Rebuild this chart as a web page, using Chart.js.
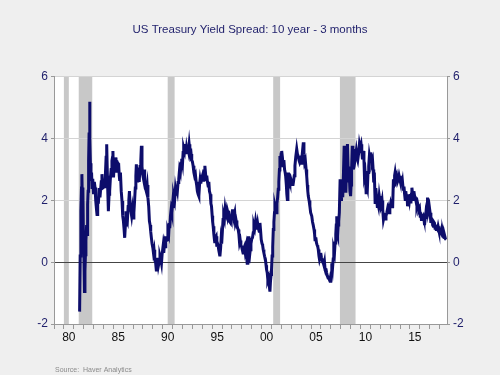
<!DOCTYPE html>
<html>
<head>
<meta charset="utf-8">
<script src="https://cdn.jsdelivr.net/npm/chart.js@4.4.0/dist/chart.umd.min.js"></script>
<style>
html,body{margin:0;padding:0;background:#efefef;}
#wrap{width:500px;height:375px;position:relative;}
</style>
</head>
<body>
<div id="wrap"><canvas id="c" width="500" height="375"></canvas></div>
<script>
const titleText = "US Treasury Yield Spread: 10 year - 3 months";
const sourceText = "Source:  Haver Analytics";
const yTicks = [-2, 0, 2, 4, 6];
const recessionStart = [1980.0, 1981.5, 1990.5, 2001.17, 2007.92];
const recessionEnd   = [1980.5, 1982.87, 1991.2, 2001.87, 2009.5];

const dates = [
1981.59,1981.65,1981.72,1981.78,1981.82,1981.87,1981.92,1981.97,1982.03,1982.08,1982.13,1982.18,1982.23,1982.30,1982.36,1982.40,1982.45,1982.50,1982.55,1982.60,1982.64,1982.68,1982.74,1982.80,1982.85,1982.92,
1983.00,1983.08,1983.15,1983.22,1983.30,1983.35,1983.42,1983.50,1983.58,1983.65,1983.70,1983.78,1983.85,1983.92,
1984.00,1984.08,1984.15,1984.20,1984.27,1984.33,1984.40,1984.45,1984.50,1984.57,1984.63,1984.70,1984.78,1984.86,1984.92,1984.96,
1985.02,1985.08,1985.15,1985.20,1985.27,1985.35,1985.42,1985.48,1985.54,1985.60,1985.65,1985.72,1985.80,1985.88,1985.95,
1986.02,1986.08,1986.15,1986.22,1986.28,1986.35,1986.42,1986.50,1986.57,1986.63,1986.70,1986.78,1986.85,1986.92,
1987.00,1987.08,1987.15,1987.22,1987.28,1987.33,1987.40,1987.47,1987.55,1987.62,1987.70,1987.78,1987.84,1987.90,1987.96,
1988.05,1988.12,1988.17,1988.25,1988.33,1988.42,1988.50,1988.58,1988.65,1988.72,1988.78,1988.85,1988.92,
1989.00,1989.06,1989.12,1989.19,1989.26,1989.36,1989.42,1989.50,1989.57,1989.65,1989.72,1989.80,1989.87,1989.93,
1990.03,1990.10,1990.18,1990.25,1990.30,1990.38,1990.45,1990.52,1990.60,1990.66,1990.71,1990.78,1990.85,1990.92,
1991.00,1991.05,1991.11,1991.20,1991.28,1991.35,1991.42,1991.48,1991.55,1991.62,1991.70,1991.78,1991.85,1991.92,
1992.00,1992.06,1992.12,1992.20,1992.26,1992.33,1992.40,1992.47,1992.54,1992.60,1992.67,1992.74,1992.80,1992.87,1992.93,
1993.00,1993.07,1993.15,1993.22,1993.30,1993.38,1993.44,1993.50,1993.58,1993.65,1993.72,1993.78,1993.85,1993.92,
1994.00,1994.08,1994.15,1994.20,1994.26,1994.32,1994.38,1994.45,1994.52,1994.59,1994.66,1994.72,1994.80,1994.87,1994.93,
1995.00,1995.05,1995.10,1995.17,1995.22,1995.27,1995.33,1995.40,1995.47,1995.53,1995.60,1995.66,1995.72,1995.78,1995.85,1995.90,1995.96,
1996.03,1996.10,1996.17,1996.24,1996.31,1996.38,1996.45,1996.52,1996.60,1996.66,1996.72,1996.80,1996.86,1996.92,
1997.00,1997.06,1997.13,1997.20,1997.28,1997.35,1997.42,1997.50,1997.57,1997.63,1997.70,1997.77,1997.84,1997.90,1997.97,
1998.05,1998.12,1998.20,1998.27,1998.33,1998.42,1998.48,1998.54,1998.60,1998.66,1998.71,1998.78,1998.85,1998.92,
1999.00,1999.08,1999.15,1999.22,1999.30,1999.39,1999.45,1999.52,1999.60,1999.67,1999.75,1999.83,1999.90,1999.96,
2000.04,2000.10,2000.16,2000.23,2000.30,2000.38,2000.45,2000.50,2000.57,2000.63,2000.70,2000.77,2000.84,2000.90,2000.96,
2001.00,2001.06,2001.12,2001.18,2001.24,2001.30,2001.35,2001.42,2001.48,2001.55,2001.62,2001.68,2001.74,2001.80,2001.85,2001.92,2001.97,
2002.03,2002.10,2002.17,2002.25,2002.32,2002.38,2002.43,2002.50,2002.55,2002.60,2002.66,2002.72,2002.78,2002.86,2002.94,
2003.04,2003.10,2003.16,2003.22,2003.30,2003.37,2003.45,2003.55,2003.62,2003.70,2003.78,2003.85,2003.92,
2004.00,2004.06,2004.14,2004.22,2004.28,2004.35,2004.42,2004.50,2004.56,2004.62,2004.67,2004.72,2004.80,2004.88,2004.96,
2005.07,2005.15,2005.22,2005.30,2005.36,2005.40,2005.48,2005.55,2005.62,2005.68,2005.73,2005.80,2005.86,2005.92,2005.98,
2006.05,2006.12,2006.18,2006.24,2006.30,2006.36,2006.42,2006.50,2006.58,2006.65,2006.72,2006.80,2006.86,2006.92,2006.98,
2007.04,2007.10,2007.17,2007.24,2007.30,2007.37,2007.43,2007.50,2007.55,2007.60,2007.65,2007.70,2007.75,2007.80,2007.86,2007.94,2007.98,
2008.03,2008.08,2008.13,2008.18,2008.23,2008.28,2008.35,2008.40,2008.45,2008.52,2008.58,2008.63,2008.68,2008.74,2008.80,2008.86,2008.93,
2009.00,2009.05,2009.10,2009.17,2009.23,2009.30,2009.37,2009.43,2009.50,2009.57,2009.64,2009.72,2009.80,2009.89,2009.96,
2010.06,2010.13,2010.20,2010.28,2010.35,2010.40,2010.47,2010.53,2010.57,2010.63,2010.70,2010.76,2010.83,2010.90,2010.97,
2011.04,2011.10,2011.16,2011.22,2011.28,2011.34,2011.40,2011.48,2011.55,2011.62,2011.70,2011.76,2011.82,2011.90,2011.96,
2012.05,2012.12,2012.18,2012.25,2012.32,2012.40,2012.46,2012.52,2012.58,2012.66,2012.72,2012.78,2012.83,2012.90,2012.97,
2013.05,2013.12,2013.17,2013.25,2013.33,2013.40,2013.45,2013.50,2013.58,2013.66,2013.74,2013.83,2013.90,2013.98,
2014.05,2014.12,2014.18,2014.25,2014.32,2014.40,2014.46,2014.52,2014.58,2014.64,2014.70,2014.76,2014.82,2014.88,2014.95,
2015.02,2015.10,2015.15,2015.20,2015.27,2015.34,2015.40,2015.47,2015.54,2015.60,2015.66,2015.71,2015.78,2015.84,2015.90,2015.97,
2016.04,2016.10,2016.16,2016.22,2016.30,2016.36,2016.42,2016.48,2016.55,2016.62,2016.68,2016.74,2016.78,2016.84,2016.90,2016.96,
2017.04,2017.12,2017.18,2017.24,2017.30,2017.36,2017.42,2017.48,2017.54,2017.60,2017.66,2017.72,2017.79,2017.85,2017.92,2017.98,
2018.06,2018.14,2018.20,2018.27,2018.34,2018.41,2018.47,2018.53,2018.60,2018.66
];

const spread = [
-1.60,0.20,1.65,2.40,2.85,2.00,2.42,1.00,0.20,-0.95,-0.30,0.24,0.70,1.20,0.90,1.87,2.30,3.28,4.20,5.19,4.00,3.20,2.63,2.90,2.42,2.70,
2.20,2.60,2.42,2.00,1.70,1.54,2.00,1.98,2.40,2.10,2.30,2.60,2.85,2.40,
2.42,2.70,2.40,2.85,3.40,3.82,2.80,2.20,1.65,2.20,2.30,2.70,3.00,3.28,3.40,3.60,
2.74,3.10,2.90,3.39,3.07,3.30,2.90,3.20,3.17,2.80,2.63,2.90,2.30,1.98,1.50,
1.33,1.10,0.79,1.20,1.65,1.40,1.33,1.80,2.00,2.30,1.80,1.65,1.50,1.70,
1.43,1.60,1.98,2.40,2.80,3.17,2.63,2.90,2.96,2.60,3.10,3.30,3.77,3.10,2.85,
2.70,3.00,2.63,2.40,2.30,2.50,2.09,1.80,1.33,1.20,1.00,0.79,0.60,
0.46,0.30,0.40,0.14,0.05,-0.30,-0.10,0.14,-0.10,0.03,0.20,0.10,-0.03,0.24,
0.51,0.30,0.60,0.50,0.84,0.70,0.73,1.00,0.90,1.27,1.10,1.50,1.71,1.60,
1.90,1.80,2.14,2.00,2.36,2.20,2.40,2.30,2.58,2.70,3.00,2.90,3.20,3.35,
3.20,3.55,3.70,3.60,3.82,3.50,3.70,3.55,3.70,3.60,3.82,3.60,3.44,3.50,3.30,
3.25,3.12,2.90,2.79,2.85,2.60,2.47,2.30,2.20,2.14,2.50,2.68,2.55,2.70,
2.79,2.65,3.00,2.85,3.12,2.90,2.68,2.80,2.60,2.47,2.60,2.30,2.20,1.90,1.81,
1.50,1.30,1.16,0.90,0.75,0.62,0.80,0.84,0.50,0.62,0.55,0.40,0.30,0.19,0.45,0.73,0.60,
1.00,1.38,1.50,1.40,1.71,1.55,1.49,1.70,1.60,1.45,1.50,1.30,1.27,1.45,
1.50,1.71,1.50,1.49,1.60,1.27,1.35,1.20,1.10,1.06,0.90,0.62,0.70,0.55,0.51,
0.40,0.30,0.45,0.51,0.35,0.50,0.20,-0.03,0.30,0.84,-0.03,0.20,0.40,0.60,
0.75,0.80,0.95,1.20,1.10,1.33,1.20,1.06,1.25,1.10,1.00,1.27,1.00,0.73,
0.60,0.55,0.41,0.30,0.19,0.10,-0.10,-0.24,-0.35,-0.57,-0.50,-0.75,-0.95,-0.60,-0.40,
-0.24,0.20,0.50,1.06,1.30,1.60,1.81,1.70,1.60,1.90,2.10,2.36,2.60,3.00,3.44,3.30,3.50,
3.60,3.40,3.12,3.30,3.00,2.90,2.79,2.50,2.20,2.03,2.40,2.90,2.70,2.60,2.70,
2.58,2.60,2.47,2.60,2.80,3.12,3.40,3.66,3.50,3.44,3.30,3.23,3.30,
3.20,3.33,3.60,3.88,3.50,3.23,3.30,3.00,2.79,2.50,2.30,2.14,2.00,1.81,1.60,
1.49,1.30,1.20,1.06,0.90,0.73,0.80,0.62,0.55,0.50,0.41,0.20,0.08,0.15,0.30,
0.15,0.10,0.00,-0.03,-0.10,0.00,-0.24,-0.20,-0.35,-0.45,-0.51,-0.45,-0.57,-0.62,-0.45,
-0.35,-0.03,-0.20,0.10,0.40,0.30,0.62,0.90,1.20,1.49,0.90,0.84,1.20,1.33,1.60,2.68,2.10,
2.03,2.20,2.50,2.68,2.10,2.90,3.77,3.00,2.60,2.25,3.00,3.30,3.82,3.10,2.58,2.90,2.30,
2.14,2.50,3.00,3.77,3.23,3.00,3.50,3.66,3.44,3.60,3.40,3.30,3.50,3.82,3.70,
3.82,3.60,3.33,3.60,3.30,2.79,2.90,2.60,2.25,2.50,2.40,2.90,3.10,3.44,3.30,
3.55,3.40,3.23,3.30,3.00,2.58,2.90,1.93,2.40,2.14,1.80,1.90,1.81,2.14,2.00,
1.81,1.90,2.00,1.70,1.38,1.50,1.60,1.40,1.49,1.60,1.70,1.60,1.71,1.60,1.75,
1.90,1.80,2.03,1.75,2.68,2.50,2.80,2.90,2.70,2.79,2.60,2.68,2.80,2.68,
2.60,2.65,2.47,2.60,2.36,2.45,2.20,2.03,2.30,2.14,2.20,1.81,1.95,2.14,2.00,
2.20,1.90,2.20,2.41,2.20,2.03,2.30,2.14,2.10,2.00,1.90,1.81,1.90,1.81,1.70,1.75,
1.49,1.60,1.38,1.50,1.45,1.49,1.40,1.20,1.45,1.60,1.81,1.90,2.09,1.90,1.71,1.80,
1.60,1.27,1.40,1.38,1.20,1.16,1.30,1.27,1.10,1.20,1.06,1.10,1.06,1.16,1.05,0.95,
1.00,0.95,1.05,0.90,0.95,0.84,0.80,0.84,0.75,0.73
];

const points = dates.map((d, i) => ({x: d, y: spread[i]}));

const bgPlugin = {
  id: 'bgAndBands',
  beforeDraw(chart) {
    const {ctx, chartArea: a, scales} = chart;
    ctx.save();
    ctx.fillStyle = '#efefef';
    ctx.fillRect(0, 0, chart.width, chart.height);
    ctx.fillStyle = '#ffffff';
    ctx.fillRect(a.left, a.top, a.right - a.left, a.bottom - a.top);
    ctx.fillStyle = '#c8c8c8';
    for (let i = 0; i < recessionStart.length; i++) {
      const x0 = scales.x.getPixelForValue(recessionStart[i]);
      const x1 = scales.x.getPixelForValue(recessionEnd[i]);
      ctx.fillRect(x0, a.top, x1 - x0, a.bottom - a.top);
    }
    ctx.restore();
  },
  afterDraw(chart) {
    const ctx = chart.ctx;
    ctx.save();
    ctx.font = '7px "Liberation Sans", Arial, sans-serif';
    ctx.fillStyle = '#8a8a8a';
    ctx.textBaseline = 'middle';
    ctx.fillText(sourceText, 55, 370);
    ctx.restore();
  }
};

const xTickVals = [];
for (let y = 1979; y <= 2018.5; y += 0.5) xTickVals.push(y);

const tickFont = {family: '"Liberation Sans", Arial, sans-serif', size: 12};

new Chart(document.getElementById('c'), {
  type: 'line',
  data: {
    datasets: [{
      data: points,
      borderColor: '#0d0d6b',
      borderWidth: 3,
      pointRadius: 0,
      tension: 0,
      fill: false
    }]
  },
  options: {
    responsive: false,
    animation: false,
    events: [],
    layout: {padding: {left: 0, right: 0, top: 0, bottom: 0}},
    plugins: {
      legend: {display: false},
      tooltip: {enabled: false},
      title: {
        display: true,
        text: titleText,
        color: '#1f1f6b',
        font: {family: '"Liberation Sans", Arial, sans-serif', size: 11.5, weight: 'normal'},
        padding: {top: 23, bottom: 40}
      }
    },
    scales: {
      x: {
        type: 'linear',
        min: 1979,
        max: 2018.75,
        afterBuildTicks(scale) { scale.ticks = xTickVals.map(v => ({value: v})); },
        afterFit(scale) { scale.height = 51; },
        grid: {
          drawOnChartArea: false,
          drawTicks: true,
          tickLength: 5,
          tickColor: (c) => (c.tick && Number.isInteger(c.tick.value)) ? '#999999' : 'rgba(0,0,0,0)'
        },
        border: {display: true, color: '#999999', width: 1},
        ticks: {
          autoSkip: false,
          maxRotation: 0,
          minRotation: 0,
          padding: 1,
          color: '#111111',
          font: tickFont,
          callback: (v) => {
            if (Number.isInteger(v)) return '';
            const yr = Math.floor(v);
            if (yr % 5 !== 0) return '';
            return String(yr % 100).padStart(2, '0');
          }
        }
      },
      y: {
        position: 'left',
        min: -2,
        max: 6,
        afterBuildTicks(scale) { scale.ticks = yTicks.map(v => ({value: v})); },
        afterFit(scale) { scale.width = 54; },
        grid: {
          color: (c) => (c.tick && c.tick.value === 0) ? '#444444' : '#d4d4d4',
          lineWidth: 1,
          drawTicks: true,
          tickLength: 3,
          tickColor: '#999999'
        },
        border: {display: true, color: '#999999', width: 1},
        ticks: {color: '#1f1f6b', font: tickFont, padding: 3}
      },
      y2: {
        position: 'right',
        min: -2,
        max: 6,
        afterBuildTicks(scale) { scale.ticks = yTicks.map(v => ({value: v})); },
        afterFit(scale) { scale.width = 53; },
        grid: {drawOnChartArea: false, drawTicks: true, tickLength: 3, tickColor: '#999999'},
        border: {display: true, color: '#999999', width: 1},
        ticks: {color: '#1f1f6b', font: tickFont, padding: 3}
      }
    }
  },
  plugins: [bgPlugin]
});
</script>
</body>
</html>
